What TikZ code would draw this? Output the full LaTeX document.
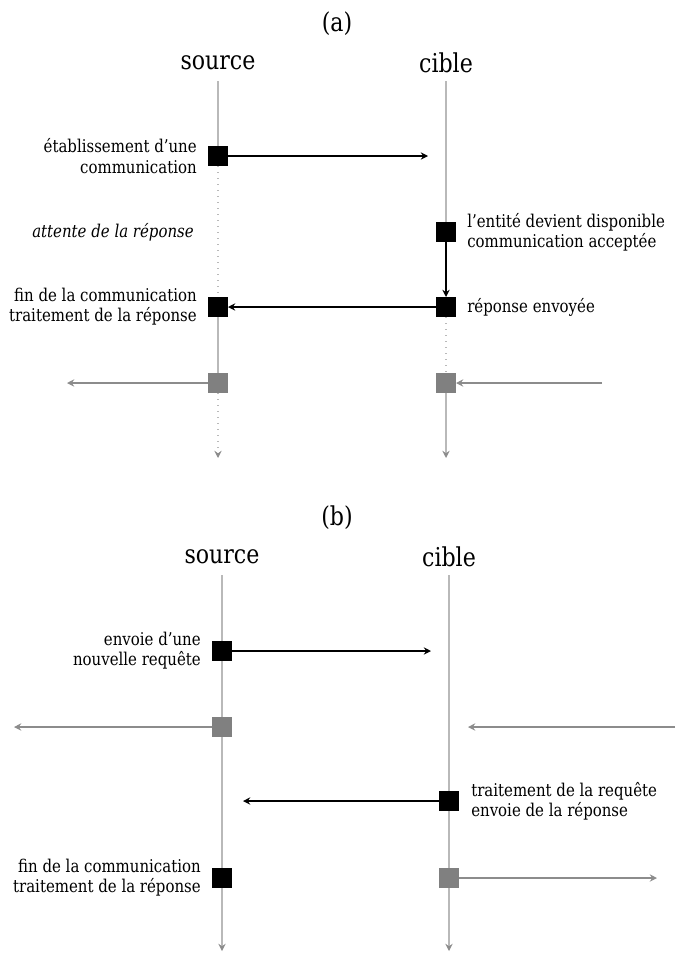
\documentclass[tikz,border=0pt]{standalone}
\usepackage{fontspec}
\setmainfont{DejaVu Serif}[FakeStretch=0.85]
\usetikzlibrary{arrows.meta}
\definecolor{lifegray}{RGB}{185,185,185}
\definecolor{boxgray}{RGB}{128,128,128}
\definecolor{arrgray}{RGB}{140,140,140}
\begin{document}
\begin{tikzpicture}[x=0.75pt,y=-0.75pt,
  blk/.style={fill=black,minimum size=15pt,inner sep=0pt,outer sep=0pt},
  gry/.style={fill=boxgray,minimum size=15pt,inner sep=0pt,outer sep=0pt},
  life/.style={draw=lifegray,line width=1.1pt},
  lifedot/.style={draw=lifegray,line width=1.1pt,dash pattern=on 0.8pt off 3.7pt},
  lifeend/.style={-{Stealth[length=5.5pt,width=5.5pt,inset=2pt,color=arrgray]}},
  msg/.style={draw=black,line width=0.9pt,-{Stealth[length=5.5pt,width=5.5pt,inset=2pt]}},
  gmsg/.style={draw=arrgray,line width=1.1pt,-{Stealth[length=5.5pt,width=5.5pt,inset=2pt]}},
  lbl/.style={font=\fontsize{13.2}{15.2}\selectfont,inner sep=0pt},
  head/.style={font=\fontsize{19.5}{22}\selectfont,inner sep=0pt}]
\useasboundingbox (0,0) rectangle (675,953);

% ---------------- (a) ----------------
\node[head] (ta) at (337,24) {(a)};
\node[head] (aS) at (218,63) {source};
\node[head] (aC) at (446,63) {cible};
\coordinate (aSt) at (218,81);
\coordinate (aCt) at (446,81);
\coordinate (aSb) at (218,458);
\coordinate (aCb) at (446,458);

\node[blk] (aS1) at (218,156) {};
\node[blk] (aS2) at (218,307) {};
\node[gry] (aG1) at (218,383) {};
\node[blk] (aC1) at (446,232) {};
\node[blk] (aC2) at (446,307) {};
\node[gry] (aG2) at (446,383) {};

\coordinate (aM1) at (428,156);
\coordinate (aL1) at (67,383);
\coordinate (aR1) at (602,383);

\draw[life] (aSt) -- (aS1);
\draw[lifedot] (aS1) -- (aS2);
\draw[life] (aS2) -- (aG1);
\draw[lifedot,lifeend] (aG1) -- (aSb);

\draw[life] (aCt) -- (aC1);
\draw[msg] (aC1) -- (aC2);
\draw[lifedot] (aC2) -- (aG2);
\draw[life,lifeend] (aG2) -- (aCb);

\draw[msg] (aS1) -- (aM1);
\draw[msg] (aC2) -- (aS2);
\draw[gmsg] (aG1) -- (aL1);
\draw[gmsg] (aR1) -- (aG2);

\node[lbl,anchor=east,align=right] (la1) at (197,156) {établissement d’une\\communication};
\node[lbl,anchor=east] (la2) at (194,232) {\itshape attente de la réponse};
\node[lbl,anchor=west,align=left] (la3) at (467,232) {l’entité devient disponible\\communication acceptée};
\node[lbl,anchor=west] (la4) at (467,307) {réponse envoyée};
\node[lbl,anchor=east,align=right] (la5) at (197,307) {fin de la communication\\traitement de la réponse};

% ---------------- (b) ----------------
\node[head] (tb) at (337,518) {(b)};
\node[head] (bS) at (222,557) {source};
\node[head] (bC) at (449,557) {cible};
\coordinate (bSt) at (222,575);
\coordinate (bCt) at (449,575);
\coordinate (bSb) at (222,951);
\coordinate (bCb) at (449,951);

\node[blk] (bS1) at (222,651) {};
\node[gry] (bG1) at (222,727) {};
\node[blk] (bS2) at (222,878) {};
\node[blk] (bC1) at (449,801) {};
\node[gry] (bG2) at (449,878) {};

\coordinate (bM1) at (431,651);
\coordinate (bL1) at (14,727);
\coordinate (bR0) at (675,727);
\coordinate (bR1) at (468,727);
\coordinate (bM2) at (243,801);
\coordinate (bR2) at (657,878);

\draw[life] (bSt) -- (bS1);
\draw[life] (bS1) -- (bG1);
\draw[life] (bG1) -- (bS2);
\draw[life,lifeend] (bS2) -- (bSb);

\draw[life] (bCt) -- (bC1);
\draw[life] (bC1) -- (bG2);
\draw[life,lifeend] (bG2) -- (bCb);

\draw[msg] (bS1) -- (bM1);
\draw[gmsg] (bG1) -- (bL1);
\draw[gmsg] (bR0) -- (bR1);
\draw[msg] (bC1) -- (bM2);
\draw[gmsg] (bG2) -- (bR2);

\node[lbl,anchor=east,align=right] (lb1) at (201,651) {envoie d’une\\nouvelle requête};
\node[lbl,anchor=west,align=left] (lb2) at (471,801) {traitement de la requête\\envoie de la réponse};
\node[lbl,anchor=east,align=right] (lb3) at (201,878) {fin de la communication\\traitement de la réponse};
\end{tikzpicture}
\end{document}
